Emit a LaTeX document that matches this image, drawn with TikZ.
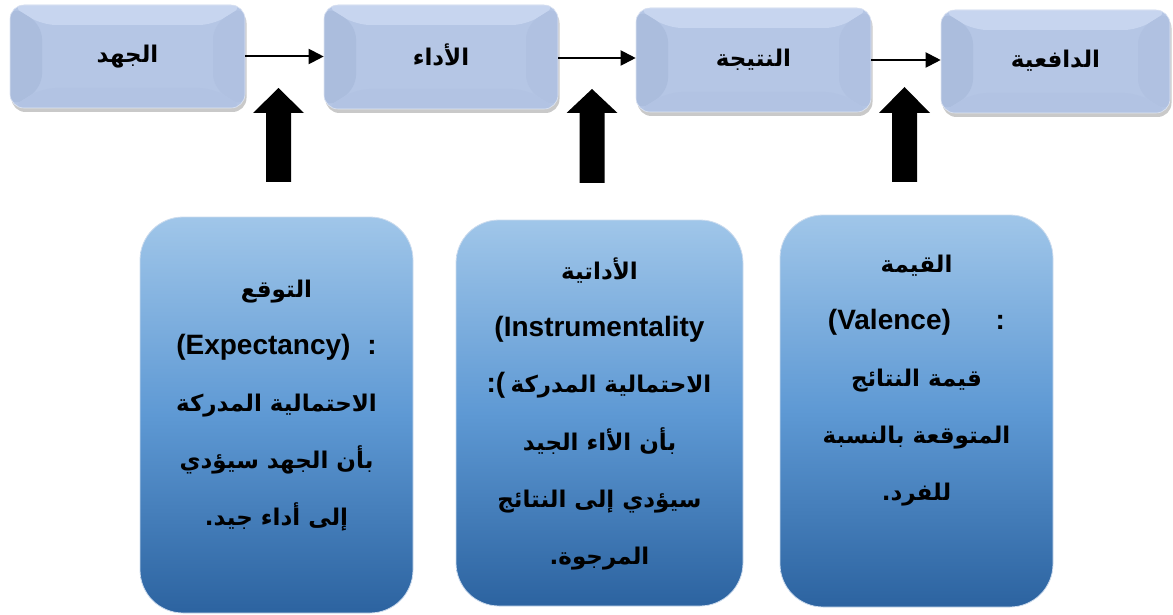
\documentclass[tikz,border=0pt]{standalone}
\usepackage{fontspec}
\setmainfont{Liberation Sans}
\newfontfamily\arabicfont[Script=Arabic]{DejaVu Sans}
\TeXXeTstate=1
\usetikzlibrary{shadows,calc,arrows.meta}

\definecolor{bevmid}{RGB}{181,198,229}
\definecolor{bevtop}{RGB}{199,213,239}
\definecolor{bevleft}{RGB}{171,189,221}
\definecolor{bevright}{RGB}{176,193,225}
\definecolor{bevbot}{RGB}{178,195,227}
\definecolor{cardtop}{RGB}{160,198,233}
\definecolor{cardmid}{RGB}{94,153,212}
\definecolor{cardbot}{RGB}{44,99,160}
\definecolor{cardedge}{RGB}{205,220,238}

\newcommand\ar[1]{{\arabicfont\bfseries\beginR #1\endR}}
\newcommand\arc[1]{{\fontsize{23}{57}\selectfont\ar{#1}}}

\tikzset{
  stage/.style={rounded corners=14pt, fill=bevmid, draw=white!55!bevmid,
    line width=0.6pt, inner sep=0pt,
    drop shadow={shadow xshift=1.5pt, shadow yshift=-4pt, opacity=0.3, fill=black!70},
    font=\fontsize{23}{27}\selectfont,
    path picture={
      \coordinate (nw) at (path picture bounding box.north west);
      \coordinate (ne) at (path picture bounding box.north east);
      \coordinate (sw) at (path picture bounding box.south west);
      \coordinate (se) at (path picture bounding box.south east);
      \fill[bevtop] (nw) -- (ne) -- ($(ne)+(-32pt,-20pt)$) -- ($(nw)+(32pt,-20pt)$) -- cycle;
      \fill[bevleft] (nw) -- (sw) -- ($(sw)+(32pt,20pt)$) -- ($(nw)+(32pt,-20pt)$) -- cycle;
      \fill[bevright] (ne) -- (se) -- ($(se)+(-32pt,20pt)$) -- ($(ne)+(-32pt,-20pt)$) -- cycle;
      \fill[bevbot] (sw) -- (se) -- ($(se)+(-32pt,20pt)$) -- ($(sw)+(32pt,20pt)$) -- cycle;
    }},
  card/.style={rounded corners=43pt, top color=cardtop, bottom color=cardbot,
    middle color=cardmid, draw=cardedge, line width=0.8pt, inner sep=0pt},
  cardtext/.style={align=center, font=\bfseries\fontsize{28}{57}\selectfont, inner sep=0pt},
  link/.style={line width=2pt, -{Triangle[length=15pt,width=15pt]}},
  push/.style={fill=black},
}

\begin{document}
\begin{tikzpicture}[x=1pt,y=-1pt]
\useasboundingbox (0,0) rectangle (1173,615);

% stages of the chain
\node[stage, minimum width=235pt, minimum height=103pt] (b1) at (127.5,56.5) {\raisebox{5pt}{\ar{الجهد}}};
\node[stage, minimum width=234pt, minimum height=104pt] (b2) at (441,57) {\raisebox{5pt}{\ar{الأداء}}};
\node[stage, minimum width=235pt, minimum height=104pt] (b3) at (753.5,60) {\raisebox{5pt}{\ar{النتيجة}}};
\node[stage, minimum width=229pt, minimum height=103pt] (b4) at (1055.5,61.5) {\raisebox{5pt}{\ar{الدافعية}}};

% links between stages
\draw[link] (b1.east) -- (b2.west |- b1.east);
\draw[link] ([yshift=-1pt]b2.east) -- ([yshift=-1pt]b3.west |- b2.east);
\draw[link] (b3.east) -- (b4.west |- b3.east);

% thick upward arrows
\foreach \cx/\tip/\bot in {278.5/88/182, 592/89/183, 904.5/87/182}{
  \fill[push] (\cx,\tip) -- (\cx+25.5,113) -- (\cx+12.5,113) -- (\cx+12.5,\bot)
    -- (\cx-12.5,\bot) -- (\cx-12.5,113) -- (\cx-25.5,113) -- cycle;
}

% explanatory cards
\node[card, minimum width=273pt, minimum height=396pt] (cA) at (276.5,415) {};
\node[card, minimum width=287pt, minimum height=386pt] (cB) at (599.5,413) {};
\node[card, minimum width=273pt, minimum height=392pt] (cC) at (916.5,411) {};

\node[cardtext] (tA) at (276.5,406) {%
  \arc{التوقع}\\
  (Expectancy)\hspace{0.6em}:\\
  \arc{الاحتمالية المدركة}\\
  \arc{بأن الجهد سيؤدي}\\
  \arc{إلى أداء جيد.}};

\node[cardtext] (tB) at (599.5,414) {%
  \arc{الأداتية}\\
  (Instrumentality\\
  \strut\\
  \arc{بأن الأاء الجيد}\\
  \arc{سيؤدي إلى النتائج}\\
  \arc{المرجوة.}};
% third line: Arabic phrase with the colon and bracket on its left
\node[cardtext, anchor=base] (tB3) at (611,392) {\arc{الاحتمالية المدركة}};
\node[cardtext, anchor=base east] (pB) at ([xshift=-5pt]tB3.base west) {:(};

\node[cardtext] (tC) at (916.5,381) {%
  \arc{القيمة}\\
  (Valence)\hspace{1.6em}:\\
  \arc{قيمة النتائج}\\
  \arc{المتوقعة بالنسبة}\\
  \arc{للفرد.}};
\end{tikzpicture}
\end{document}
